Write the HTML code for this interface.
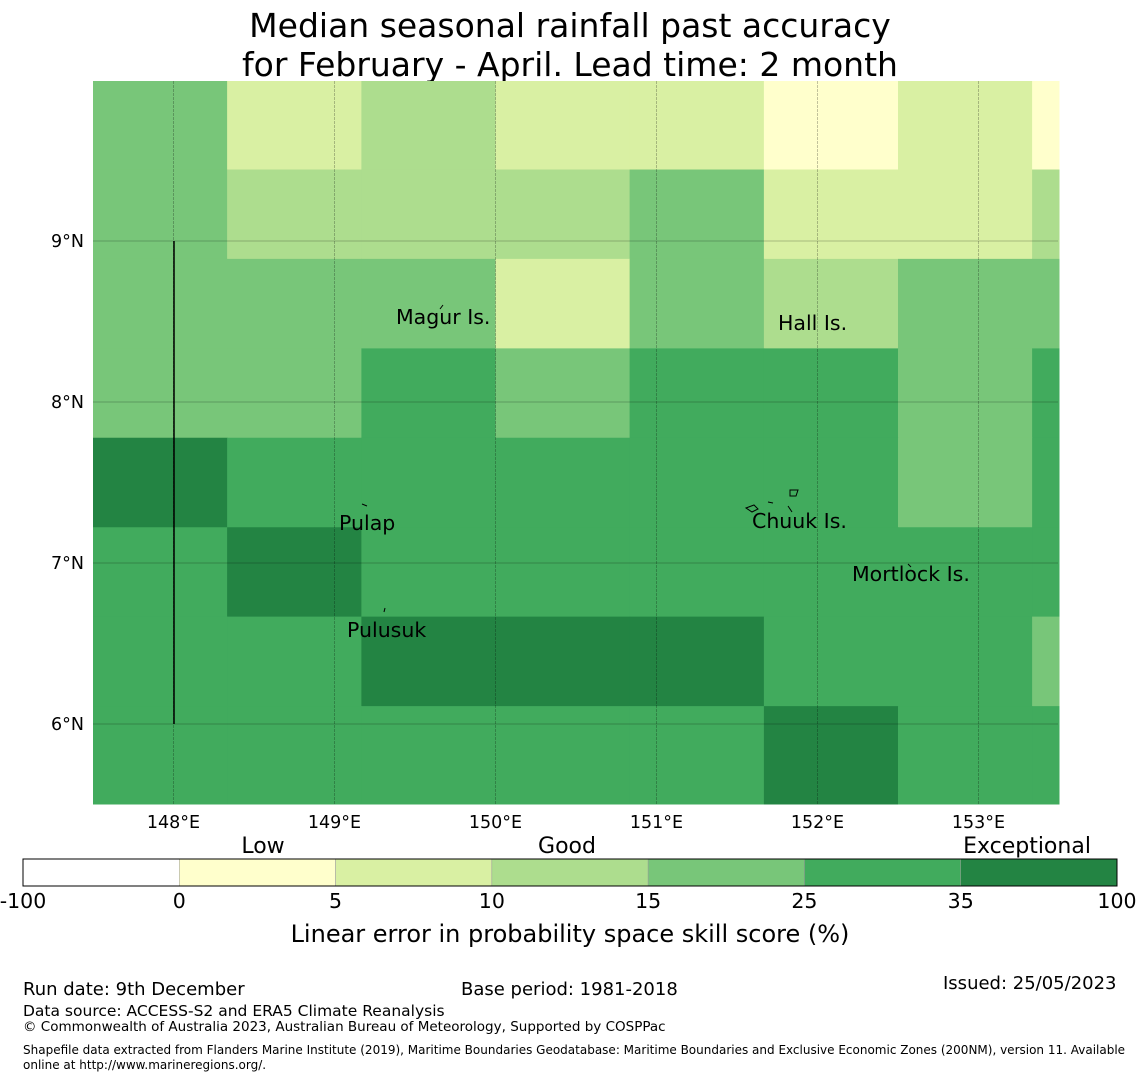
<!DOCTYPE html>
<html><head><meta charset="utf-8"><style>
body{margin:0;background:#fff;font-family:"Liberation Sans","DejaVu Sans",sans-serif}
</style></head><body>
<svg id="c" width="1140" height="1080" xmlns="http://www.w3.org/2000/svg" font-family="DejaVu Sans, Liberation Sans, sans-serif">
<text x="570" y="37" font-size="33" text-anchor="middle">Median seasonal rainfall past accuracy</text>
<text x="570" y="76" font-size="33" text-anchor="middle">for February - April. Lead time: 2 month</text>
<g id="map"></g>
<g id="grid"></g>
<line x1="174" y1="241" x2="174" y2="724" stroke="#000" stroke-width="1.5"/>
<g font-size="20.5">
<text x="396" y="324">Magur Is.</text>
<text x="778" y="330">Hall Is.</text>
<text x="339" y="530">Pulap</text>
<text x="752" y="528">Chuuk Is.</text>
<text x="852" y="581">Mortlock Is.</text>
<text x="347" y="637">Pulusuk</text>
</g>
<g fill="none" stroke="#000" stroke-width="1">
<path d="M440,309 l3,-4"/><path d="M362,504 l5,2"/><path d="M384,612 l1,-4"/>
<path d="M746,508 l8,-3 l4,4 l-6,3z"/><path d="M790,490 l8,0 l-2,6 l-6,0z"/><path d="M788,506 l4,6"/><path d="M768,502 l5,1"/>
<path d="M908,564 l3,3"/>
</g>
<g id="axes" font-size="17.5"></g>
<g id="cbar"></g>
<g font-size="22">
<text x="263" y="853" text-anchor="middle">Low</text>
<text x="567" y="853" text-anchor="middle">Good</text>
<text x="1027" y="853" text-anchor="middle">Exceptional</text>
</g>
<text x="570" y="942" font-size="24" text-anchor="middle">Linear error in probability space skill score (%)</text>
<g font-size="18">
<text x="23" y="995">Run date: 9th December</text>
<text x="461" y="995">Base period: 1981-2018</text>
<text x="943" y="989">Issued: 25/05/2023</text>
<text x="23" y="1016" font-size="15.5">Data source: ACCESS-S2 and ERA5 Climate Reanalysis</text>
<text x="23" y="1031" font-size="13.5">© Commonwealth of Australia 2023, Australian Bureau of Meteorology, Supported by COSPPac</text>
<text x="23" y="1054" font-size="12">Shapefile data extracted from Flanders Marine Institute (2019), Maritime Boundaries Geodatabase: Maritime Boundaries and Exclusive Economic Zones (200NM), version 11. Available</text>
<text x="23" y="1069" font-size="12">online at http://www.marineregions.org/.</text>
</g>
</svg>
<script>
const lonEdges=[147.5,148.333,149.167,150,150.833,151.667,152.5,153.333,153.5];
const latEdges=[10,9.444,8.889,8.333,7.778,7.222,6.667,6.111,5.5];
const skill=[
[20,8,12,8,8,3,8,3],
[20,12,12,12,20,8,8,12],
[20,20,20,8,20,12,20,20],
[20,20,30,20,30,30,20,30],
[40,30,30,30,30,30,20,30],
[30,40,30,30,30,30,30,30],
[30,30,40,40,40,30,30,20],
[30,30,30,30,30,40,30,30]];
const bounds=[-100,0,5,10,15,25,35,100];
const boundLabels=["-100","0","5","10","15","25","35","100"];
const colors=["#ffffff","#ffffcc","#d9f0a3","#addd8e","#78c679","#41ab5d","#238443"];
const lonTicks=[148,149,150,151,152,153];
const latTicks=[9,8,7,6];
const X0=93,X1=1058,Y0=81,Y1=804;
const x=l=>X0+(l-147.5)*161;
const y=a=>241+(9-a)*161;
const yc=a=>Math.max(Y0,Math.min(Y1,y(a)));
const NS='http://www.w3.org/2000/svg';
function mk(t,p,at){const e=document.createElementNS(NS,t);for(const k in at)e.setAttribute(k,at[k]);p.appendChild(e);return e;}
function col(v){for(let i=bounds.length-2;i>=0;i--)if(v>=bounds[i])return colors[i];return colors[0];}
const map=document.getElementById('map');
skill.forEach((row,r)=>row.forEach((v,c)=>{
 const x0=x(lonEdges[c]),x1=x(lonEdges[c+1]),y0=yc(latEdges[r]),y1=yc(latEdges[r+1]);
 const e=mk('rect',map,{x:x0,y:y0,width:x1-x0+0.5,height:y1-y0+0.5,fill:col(v)});
 
 
}));
const g=document.getElementById('grid'),ax=document.getElementById('axes');
lonTicks.forEach(l=>{
 const e=mk('line',g,{x1:x(l),x2:x(l),y1:Y0,y2:Y1,stroke:'#000','stroke-opacity':0.3,'stroke-width':0.8,'stroke-dasharray':'3,1'});
 
 const t=mk('text',ax,{x:x(l),y:828,'text-anchor':'middle'});t.textContent=l+'°E';
 
});
latTicks.forEach(a=>{
 const e=mk('line',g,{x1:X0,x2:X1,y1:y(a),y2:y(a),stroke:'#000','stroke-opacity':0.3,'stroke-width':0.8});
 
 const t=mk('text',ax,{x:84,y:y(a)+6,'text-anchor':'end'});t.textContent=a+'°N';
 
});
const cb=document.getElementById('cbar');const CX0=23,CX1=1117,n=colors.length,w=(CX1-CX0)/n;
colors.forEach((c,i)=>{
 const e=mk('rect',cb,{x:CX0+i*w,y:859,width:w,height:27,fill:c,stroke:'#999','stroke-width':0.5});
 
});
mk('rect',cb,{x:CX0,y:859,width:CX1-CX0,height:27,fill:'none',stroke:'#000','stroke-width':1});
boundLabels.forEach((s,i)=>{
 const t=mk('text',cb,{x:CX0+i*w,y:908,'text-anchor':'middle','font-size':20.5});t.textContent=s;
 
});
</script>
</body></html>
